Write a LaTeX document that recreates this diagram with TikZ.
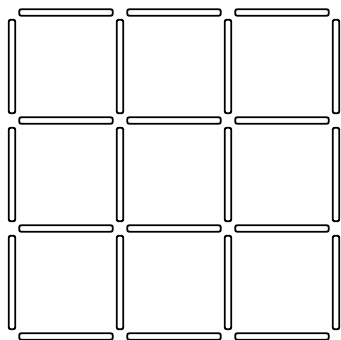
\documentclass[tikz,border=0pt]{standalone}
\usepackage{tikz}

\begin{document}
\begin{tikzpicture}[
  x=1pt, y=-1pt,
  stick/.style={draw, line width=1.9pt, rounded corners=2pt, fill=white,
    inner sep=0pt},
  hstick/.style={stick, minimum width=93.5pt, minimum height=6.5pt},
  vstick/.style={stick, minimum width=6.5pt, minimum height=93.5pt}
]
\useasboundingbox (0,0) rectangle (341,340);

% horizontal matches
\foreach \i in {0,1,2}
  \foreach \j in {0,1,2,3}
    \node[hstick] (h-\i-\j) at (66+108*\i, 12+108*\j+0.5) {};

% vertical matches
\foreach \i in {0,1,2,3}
  \foreach \j in {0,1,2}
    \node[vstick] (v-\i-\j) at (12+108*\i, 66+108*\j+0.5) {};
\end{tikzpicture}
\end{document}
